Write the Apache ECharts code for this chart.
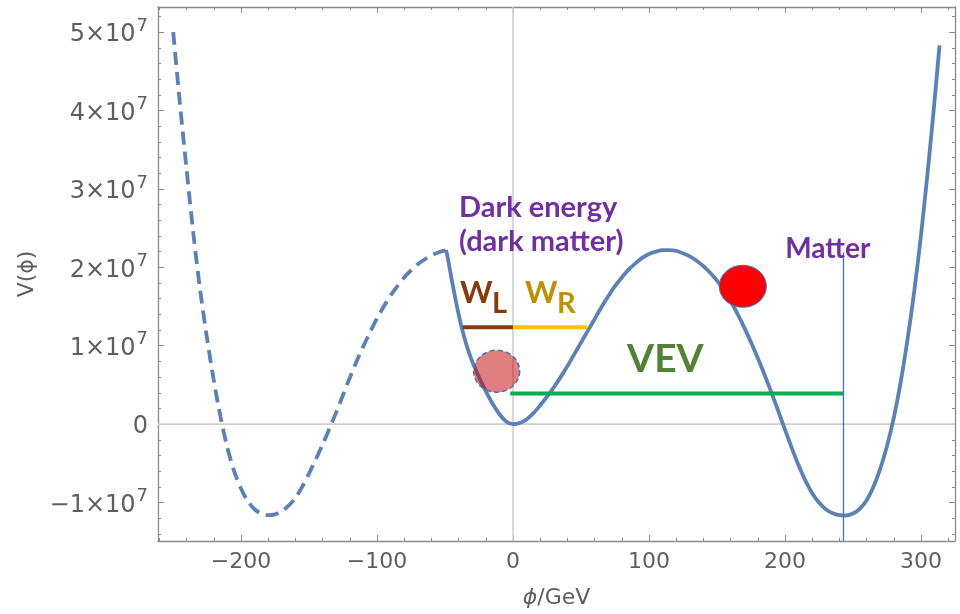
<!DOCTYPE html>
<html><head><meta charset="utf-8">
<script src="https://cdn.jsdelivr.net/npm/echarts@6/dist/echarts.min.js"></script>
<style>html,body{margin:0;padding:0;background:#fff}#c{width:960px;height:614px}</style>
</head><body><div id="c"></div>
<script>
// ---- data ----
const phiDashed = [-249.8, -245, -240, -235, -230, -225, -220, -215, -210, -205, -200, -195, -190, -185, -180,
  -175, -170, -165, -160, -155, -150, -145, -140, -135, -130, -125, -120, -115, -110, -105, -100,
  -95, -90, -85, -80, -75, -70, -65, -60, -55, -50, -49.3];
const vDashed = [5.0e7, 4.11e7, 3.25e7, 2.43e7, 1.71e7, 1.1e7, 0.56e7, 0.09e7, -0.3e7, -0.6e7, -0.82e7, -0.98e7, -1.085e7, -1.14e7, -1.16e7,
  -1.15e7, -1.11e7, -1.04e7, -0.94e7, -0.8e7, -0.63e7, -0.45e7, -0.26e7, -0.06e7, 0.15e7, 0.37e7, 0.59e7, 0.8e7, 0.995e7, 1.175e7, 1.35e7,
  1.5e7, 1.64e7, 1.76e7, 1.87e7, 1.96e7, 2.04e7, 2.1e7, 2.15e7, 2.19e7, 2.215e7, 2.22e7];

const phiSolid = [-49.3, -48.5, -47, -45, -42, -38, -34, -30, -25, -20, -15, -10, -5,
  0, 5, 10, 15, 20, 25, 30, 35, 40, 45,
  50, 55, 60, 65, 70, 75, 80, 85, 90, 95,
  100, 105, 110, 115, 120, 125, 130, 135, 140, 145,
  150, 155, 160, 165, 170, 175, 180, 185, 190, 195,
  200, 205, 210, 215, 220, 225, 230, 235, 240, 245,
  250, 255, 260, 265, 270, 275, 280, 285, 290, 295,
  300, 305, 310, 313.6];
const vSolid = [2.22e7, 2.17e7, 2.03e7, 1.84e7, 1.57e7, 1.25e7, 1.0e7, 0.8e7, 0.6e7, 0.42e7, 0.26e7, 0.13e7, 0.035e7,
  0, 0.015e7, 0.06e7, 0.14e7, 0.24e7, 0.35e7, 0.47e7, 0.6e7, 0.74e7, 0.89e7,
  1.04e7, 1.19e7, 1.34e7, 1.49e7, 1.63e7, 1.76e7, 1.87e7, 1.97e7, 2.05e7, 2.12e7,
  2.17e7, 2.2e7, 2.22e7, 2.22e7, 2.21e7, 2.18e7, 2.14e7, 2.085e7, 2.015e7, 1.93e7,
  1.83e7, 1.71e7, 1.57e7, 1.41e7, 1.235e7, 1.045e7, 0.845e7, 0.63e7, 0.405e7, 0.17e7,
  -0.07e7, -0.305e7, -0.525e7, -0.72e7, -0.88e7, -1.0e7, -1.085e7, -1.135e7, -1.16e7, -1.165e7,
  -1.14e7, -1.08e7, -0.97e7, -0.8e7, -0.57e7, -0.28e7, 0.08e7, 0.53e7, 1.07e7, 1.69e7,
  2.41e7, 3.23e7, 4.13e7, 4.83e7];

const xMajorTicks = [-200, -100, 0, 100, 200, 300];
const xMinorTicks = [-260, -240, -220, -200, -180, -160, -140, -120, -100, -80, -60, -40, -20, 0, 20, 40, 60, 80, 100, 120, 140, 160, 180, 200, 220, 240, 260, 280, 300, 320];
const yMajorTicks = [-1e7, 0, 1e7, 2e7, 3e7, 4e7, 5e7];
const yMinorTicks = [-1.4e7, -1.2e7, -1.0e7, -0.8e7, -0.6e7, -0.4e7, -0.2e7, 0, 0.2e7, 0.4e7, 0.6e7, 0.8e7, 1.0e7, 1.2e7, 1.4e7, 1.6e7, 1.8e7, 2.0e7, 2.2e7, 2.4e7, 2.6e7, 2.8e7, 3.0e7, 3.2e7, 3.4e7, 3.6e7, 3.8e7, 4.0e7, 4.2e7, 4.4e7, 4.6e7, 4.8e7, 5.0e7, 5.2e7];

const xRange = [-261, 325];
const yRange = [-1.49e7, 5.32e7];

// annotation values (data units)
const wLevel = 1.237e7, wLeftPhi = -37, wSplitPhi = 0, wRightPhi = 54.5;
const vevLevel = 0.39e7, vevStartPhi = -2, vevPhi = 243;
const matterTop = 2.19e7;
const darkBall = [-12, 0.675e7];
const matterBall = [169, 1.758e7];

// ---- chart ----
const frameColor = '#8a8a8a';
const tickFont = 'DejaVu Sans';
const labelColor = '#5f5f5f';
const curveColor = '#5E81B5';
const minus = v => (v < 0 ? '\u2212' + Math.abs(v) : String(v));

function xAx(pos, ticks, len, line, labels) {
  const a = {
    type: 'value', position: pos, min: xRange[0], max: xRange[1],
    axisLine: { show: line, onZero: false, lineStyle: { color: frameColor, width: 1.3 } },
    axisTick: { show: true, inside: true, length: len, customValues: ticks, lineStyle: { color: frameColor, width: 1 } },
    axisLabel: { show: false },
    splitLine: { show: false }
  };
  if (labels) {
    a.axisLabel = { show: true, customValues: ticks, formatter: minus, margin: 10,
      fontFamily: tickFont, fontSize: 22, color: labelColor };
    a.name = '{i|\u03d5}/GeV';
    a.nameLocation = 'middle';
    a.nameGap = 46;
    a.nameTextStyle = { fontFamily: tickFont, fontSize: 22, color: labelColor,
      rich: { i: { fontFamily: tickFont, fontStyle: 'italic', fontSize: 22, color: labelColor } } };
  }
  return a;
}
function yAx(pos, ticks, len, line, labels) {
  const a = {
    type: 'value', position: pos, min: yRange[0], max: yRange[1],
    axisLine: { show: line, onZero: false, lineStyle: { color: frameColor, width: 1.3 } },
    axisTick: { show: true, inside: true, length: len, customValues: ticks, lineStyle: { color: frameColor, width: 1 } },
    axisLabel: { show: false },
    splitLine: { show: false }
  };
  if (labels) {
    a.axisLabel = { show: true, customValues: ticks, margin: 10,
      formatter: v => {
        if (v === 0) return '{m|0}';
        const k = Math.round(v / 1e7);
        return '{m|' + minus(k) + '\u00d710}{s|7}';
      },
      rich: {
        m: { fontFamily: tickFont, fontSize: 24, color: labelColor, lineHeight: 30, verticalAlign: 'bottom' },
        s: { fontFamily: tickFont, fontSize: 18, color: labelColor, lineHeight: 20, verticalAlign: 'top', padding: [0, 0, 0, 1] }
      }
    };
    a.name = 'V(\u03d5)';
    a.nameLocation = 'middle';
    a.nameGap = 118;
    a.nameRotate = 90;
    a.nameTextStyle = { fontFamily: tickFont, fontSize: 22, color: labelColor };
  }
  return a;
}

const zip = (xs, ys) => xs.map((x, i) => [x, ys[i]]);
const textFont = 'Lato';
function textPoint(pos, text, style) {
  return {
    type: 'scatter', symbolSize: 0, z: 10, silent: true,
    itemStyle: { opacity: 1 },
    data: [pos],
    label: Object.assign({ show: true, position: 'right', distance: 0, formatter: text,
      fontFamily: textFont, align: 'left' }, style)
  };
}

const chart = echarts.init(document.getElementById('c'), null, { renderer: 'canvas' });
chart.setOption({
  animation: false,
  backgroundColor: '#ffffff',
  grid: { left: 158, right: 5, top: 7, bottom: 73, containLabel: false },
  xAxis: [xAx('bottom', xMajorTicks, 6, true, true), xAx('bottom', xMinorTicks, 3, false, false),
          xAx('top', xMajorTicks, 6, true, false), xAx('top', xMinorTicks, 3, false, false)],
  yAxis: [yAx('left', yMajorTicks, 6, true, true), yAx('left', yMinorTicks, 3, false, false),
          yAx('right', yMajorTicks, 6, true, false), yAx('right', yMinorTicks, 3, false, false)],
  series: [
    { type: 'line', z: 1, silent: true, showSymbol: false, data: [[xRange[0], 0], [xRange[1], 0]],
      lineStyle: { color: '#cfcfcf', width: 1.6 } },
    { type: 'line', z: 1, silent: true, showSymbol: false, data: [[0, yRange[0]], [0, yRange[1]]],
      lineStyle: { color: '#cfcfcf', width: 1.6 } },
    { name: 'dashed', type: 'line', z: 3, showSymbol: false, smooth: 0.3, data: zip(phiDashed, vDashed),
      lineStyle: { color: curveColor, width: 3.8, type: [13, 7], cap: 'butt' } },
    { name: 'solid', type: 'line', z: 3, showSymbol: false, smooth: 0.3, data: zip(phiSolid, vSolid),
      lineStyle: { color: curveColor, width: 3.8, cap: 'butt', join: 'miter' } },
    { type: 'line', z: 5, showSymbol: false, data: [[wLeftPhi, wLevel], [wSplitPhi, wLevel]],
      lineStyle: { color: '#843C0C', width: 4 } },
    { type: 'line', z: 5, showSymbol: false, data: [[wSplitPhi, wLevel], [wRightPhi, wLevel]],
      lineStyle: { color: '#FFC000', width: 4 } },
    { type: 'line', z: 5, showSymbol: false, data: [[vevStartPhi, vevLevel], [vevPhi, vevLevel]],
      lineStyle: { color: '#00B050', width: 4 } },
    { type: 'line', z: 5, showSymbol: false, data: [[vevPhi, matterTop], [vevPhi, yRange[0]]],
      lineStyle: { color: '#4472C4', width: 1.3 } },
    { type: 'scatter', z: 6, silent: true, symbol: 'circle', symbolSize: [46, 42], data: [darkBall],
      itemStyle: { color: 'rgba(192,0,0,0.5)', opacity: 1, borderColor: '#4472C4', borderWidth: 1.5, borderType: [5, 3] } },
    { type: 'scatter', z: 6, silent: true, symbol: 'circle', symbolSize: [47, 42], data: [matterBall],
      itemStyle: { color: '#FF0000', opacity: 1, borderColor: '#4472C4', borderWidth: 1 } },
    textPoint([-39.7, 2.55e7], 'Dark energy\n(dark matter)', { color: '#7030A0', fontSize: 29, fontWeight: 'bold', lineHeight: 34 }),
    textPoint([200.2, 2.232e7], 'Matter', { color: '#7030A0', fontSize: 28, fontWeight: 'bold' }),
    textPoint([83.9, 0.83e7], 'VEV', { color: '#538135', fontSize: 39, fontWeight: 'bold' }),
    textPoint([-39, 1.671e7], 'W', { color: '#843C0C', fontSize: 31, fontWeight: 'bold' }),
    textPoint([-15.5, 1.543e7], 'L', { color: '#843C0C', fontSize: 29, fontWeight: 'bold' }),
    textPoint([8.8, 1.671e7], 'W', { color: '#BF9000', fontSize: 31, fontWeight: 'bold' }),
    textPoint([32.4, 1.543e7], 'R', { color: '#BF9000', fontSize: 29, fontWeight: 'bold' })
  ]
});
</script></body></html>
